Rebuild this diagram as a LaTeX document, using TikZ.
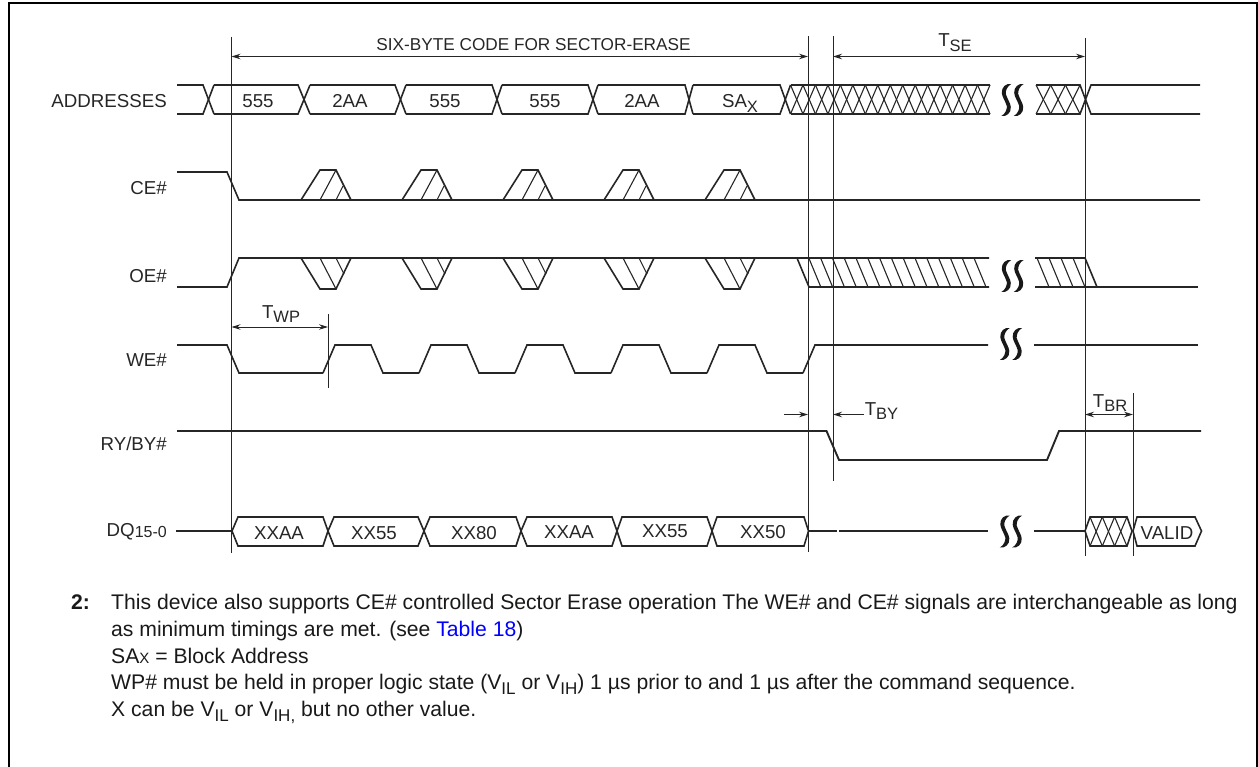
\documentclass[tikz,border=0pt]{standalone}
\usepackage{fontspec}
\setmainfont{Liberation Sans}
\usetikzlibrary{arrows.meta}
\newcommand{\subx}[1]{\raisebox{-4.5pt}{\fontsize{16.5}{16.5}\selectfont #1}}
\newcommand{\subn}[1]{\raisebox{-4.5pt}{\fontsize{17}{17}\selectfont #1}}
\tikzset{
	sig/.style={line width=1.6pt, color=black!85, line join=miter},
	hatch/.style={line width=1.1pt, color=black!85},
	guide/.style={line width=1pt, color=black!85},
	dim/.style={line width=0.9pt, color=black!85, {Stealth[length=9pt,width=5.5pt]}-{Stealth[length=9pt,width=5.5pt]}},
	dimr/.style={line width=0.9pt, color=black!85, -{Stealth[length=9pt,width=5.5pt]}},
	siglabel/.style={anchor=base east, inner sep=0pt, font=\fontsize{18.7}{20}\selectfont, color=black!85},
	boxlabel/.style={anchor=base, inner sep=0pt, font=\fontsize{18.7}{20}\selectfont, color=black!85},
	squig/.pic={
		\fill[black!90] (5,-16) .. controls (0,-17) and (-5,-13) .. (-4.5,-7) .. controls (-4.2,-3) and (-1,1) .. (0.5,6) .. controls (1,9) and (-1,14) .. (-5,16)
			.. controls (0,17) and (5,13) .. (4.5,7) .. controls (4.2,3) and (1,-1) .. (-0.5,-6) .. controls (-1,-9) and (1,-14) .. (5,-16) -- cycle;
	}
}
\begin{document}
\begin{tikzpicture}[x=1pt,y=-1pt]
	\useasboundingbox (0,0) rectangle (1258,767);
	\draw[line width=2.6pt] (9,767) -- (9,3) -- (1257,3) -- (1257,767);

	% ends of the guides and arrows
	\coordinate (gstart) at (231.5,37);
	\coordinate (gstartb) at (231.5,553);
	\coordinate (gcode) at (808,36);
	\coordinate (gcodeb) at (808,552);
	\coordinate (gse) at (833,36);
	\coordinate (gseb) at (833,481);
	\coordinate (gend) at (1085,38);
	\coordinate (gendb) at (1085,556);
	\coordinate (gwp) at (328,314);
	\coordinate (gwpb) at (328,387.5);
	\coordinate (gbr) at (1133,393);
	\coordinate (gbrb) at (1133,556);
	\draw[guide] (gstart) -- (gstartb);
	\draw[guide] (gcode) -- (gcodeb);
	\draw[guide] (gse) -- (gseb);
	\draw[guide] (gend) -- (gendb);
	\draw[guide] (gwp) -- (gwpb);
	\draw[guide] (gbr) -- (gbrb);

	\draw[dim] (gstart |- 0,56.5) -- (gcode |- 0,56.5);
	\draw[dim] (gse |- 0,56.5) -- (gend |- 0,56.5);
	\draw[dim] (gstart |- 0,327) -- (gwp |- 0,327);
	\draw[dim] (gend |- 0,414.5) -- (gbr |- 0,414.5);
	\coordinate (bya) at (784,414.5);
	\coordinate (byb) at (864,414.5);
	\draw[dimr] (bya) -- (gcode |- bya);
	\draw[dimr] (byb) -- (gse |- byb);

	\node[boxlabel, font=\fontsize{17.2}{20}\selectfont] (code) at (533.5,50.5) {SIX-BYTE CODE FOR SECTOR-ERASE};
	\node[boxlabel] (tse) at (955,47) {T\subx{SE}};
	\node[boxlabel] (twp) at (281,318) {T\subx{WP}};
	\node[boxlabel] (tby) at (881.5,415) {T\subx{BY}};
	\node[boxlabel] (tbr) at (1110,407) {T\subx{BR}};

	\node[siglabel] (addresses) at (167,108) {ADDRESSES};
	\node[siglabel] (ce) at (167,195) {CE\#};
	\node[siglabel] (oe) at (167,283) {OE\#};
	\node[siglabel] (we) at (167,366) {WE\#};
	\node[siglabel] (ryby) at (167,450) {RY/BY\#};
	\node[siglabel] (dq) at (167,536) {DQ\raisebox{-1.5pt}{\fontsize{16}{16}\selectfont 15-0}};

	% ADDRESSES
	\draw[sig] (177,85) -- (203,85) -- (214,114);
	\draw[sig] (177,114) -- (203,114) -- (214,85);
	\foreach \a/\b/\c in {214/298/310, 310/395/406, 406/492/502, 502/588/598, 598/685/693, 693/780/790.5} {
		\draw[sig] (\a,85) -- (\b,85) -- (\c,114);
		\draw[sig] (\a,114) -- (\b,114) -- (\c,85);
	}
	\draw[sig] (790.5,85) -- (990,85);
	\draw[sig] (790.5,114) -- (990,114);
	\foreach \k in {0,...,15} {
		\draw[hatch] (790.5+12.47*\k,85) -- (790.5+12.47*\k+12.47,114);
		\draw[hatch] (790.5+12.47*\k,114) -- (790.5+12.47*\k+12.47,85);
	}
	\draw[sig] (1036,85) -- (1080,85) -- (1091,114) -- (1200,114);
	\draw[sig] (1036,114) -- (1080,114) -- (1091,85) -- (1200,85);
	\foreach \k in {0,1,2} {
		\draw[hatch] (1036+14.7*\k,85) -- (1036+14.7*\k+14.7,114);
		\draw[hatch] (1036+14.7*\k,114) -- (1036+14.7*\k+14.7,85);
	}
	\node[boxlabel] (a1) at (258,108) {555};
	\node[boxlabel] (a2) at (350,108) {2AA};
	\node[boxlabel] (a3) at (445,108) {555};
	\node[boxlabel] (a4) at (545,108) {555};
	\node[boxlabel] (a5) at (642,108) {2AA};
	\node[boxlabel] (a6) at (740,108) {SA\subx{X}};

	% CE#
	\draw[sig] (177,172) -- (227,172) -- (239,200) -- (1200,200);
	\foreach \x in {301,402,503,604,705} {
		\draw[sig] (\x,200) -- (\x+19,170) -- (\x+35,170) -- (\x+50,200);
		\draw[hatch] (\x+19,200) -- (\x+35,170);
		\draw[hatch] (\x+35,200) -- (\x+42,186);
	}

	% OE#
	\draw[sig] (177,287) -- (227,287) -- (239,258) -- (989,258);
	\foreach \x in {301,402,503,604,705} {
		\draw[sig] (\x,258) -- (\x+19,289) -- (\x+35,289) -- (\x+50,258);
		\draw[hatch] (\x+19,258) -- (\x+35,289);
		\draw[hatch] (\x+35,258) -- (\x+43,274);
	}
	\draw[sig] (797,258) -- (809,287) -- (989,287);
	\foreach \k in {1,...,15} {
		\draw[hatch] (797+11.8*\k,258) -- (809+11.8*\k,287);
	}
	\draw[sig] (1035,258) -- (1085,258) -- (1097,287);
	\draw[sig] (1035,287) -- (1198,287);
	\foreach \x in {1037,1049,1061,1073} {
		\draw[hatch] (\x,258) -- (\x+12,287);
	}

	% WE#
	\draw[sig] (177,345) -- (227,345) -- (239,373) -- (323,373);
	\foreach \x in {323,419,515,611,707} {
		\draw[sig] (\x,373) -- (\x+12,345) -- (\x+48,345) -- (\x+60,373) -- (\x+96,373);
	}
	\draw[sig] (803,373) -- (815,345) -- (988,345);
	\draw[sig] (1034,345) -- (1198,345);

	% RY/BY#
	\draw[sig, line width=1.9pt] (177,431) -- (826.5,431) -- (839,460) -- (1047,460) -- (1059,431) -- (1201,431);

	% DQ15-0
	\draw[sig] (176,531) -- (232,531);
	\foreach \t/\a/\b/\u in {232/238/323/328, 328/334/418/424, 424/430/516/521, 521/527/612/617, 617/622/707/712, 712/717/804/808.5} {
		\draw[sig] (\t,531) -- (\a,517) -- (\b,517) -- (\u,531) -- (\b,546) -- (\a,546) -- cycle;
	}
	\draw[sig] (808.5,531) -- (837,531);
	\draw[sig] (839,531) -- (988,531);
	\draw[sig] (1034,531) -- (1085,531);
	\draw[sig] (1085,531) -- (1090,517) -- (1127,517) -- (1132,531) -- (1127,546) -- (1090,546) -- cycle;
	\foreach \x in {1090,1102.3,1114.6} {
		\draw[hatch] (\x,517) -- (\x+12.3,546);
		\draw[hatch] (\x,546) -- (\x+12.3,517);
	}
	\draw[sig] (1133,531) -- (1137,517) -- (1195,517) -- (1201.5,531) -- (1195,546) -- (1137,546) -- cycle;
	\node[boxlabel] (d1) at (279,539) {XXAA};
	\node[boxlabel] (d2) at (374,539) {XX55};
	\node[boxlabel] (d3) at (474,539.5) {XX80};
	\node[boxlabel] (d4) at (569,538) {XXAA};
	\node[boxlabel] (d5) at (665,537) {XX55};
	\node[boxlabel] (d6) at (763,538.5) {XX50};
	\node[boxlabel] (d7) at (1167,539) {VALID};

	% breaks
	\foreach \x/\y in {1012.5/100, 1012.5/276, 1011/344, 1011/531.5} {
		\pic at (\x-6.2,\y) {squig};
		\pic at (\x+6.2,\y) {squig};
	}

	% note
	\node[anchor=base west, inner sep=0pt, font=\bfseries\fontsize{21.15}{26.8}\selectfont, color=black!90] (noten) at (71,609.5) {2:};
	\node[anchor=north west, inner sep=0pt, align=left, font=\fontsize{21.15}{26.8}\selectfont, color=black!90] (notes) at (111,594) {This device also supports CE\# controlled Sector Erase operation The WE\# and CE\# signals are interchangeable as long\\
		as minimum timings are met. (see \textcolor{blue}{Table 18})\\
		SA{\fontsize{15}{15}\selectfont X} = Block Address\\
		WP\# must be held in proper logic state (V\subn{IL} or V\subn{IH}) 1 µs prior to and 1 µs after the command sequence.\\
		X can be V\subn{IL} or V\subn{IH,} but no other value.};
\end{tikzpicture}
\end{document}
